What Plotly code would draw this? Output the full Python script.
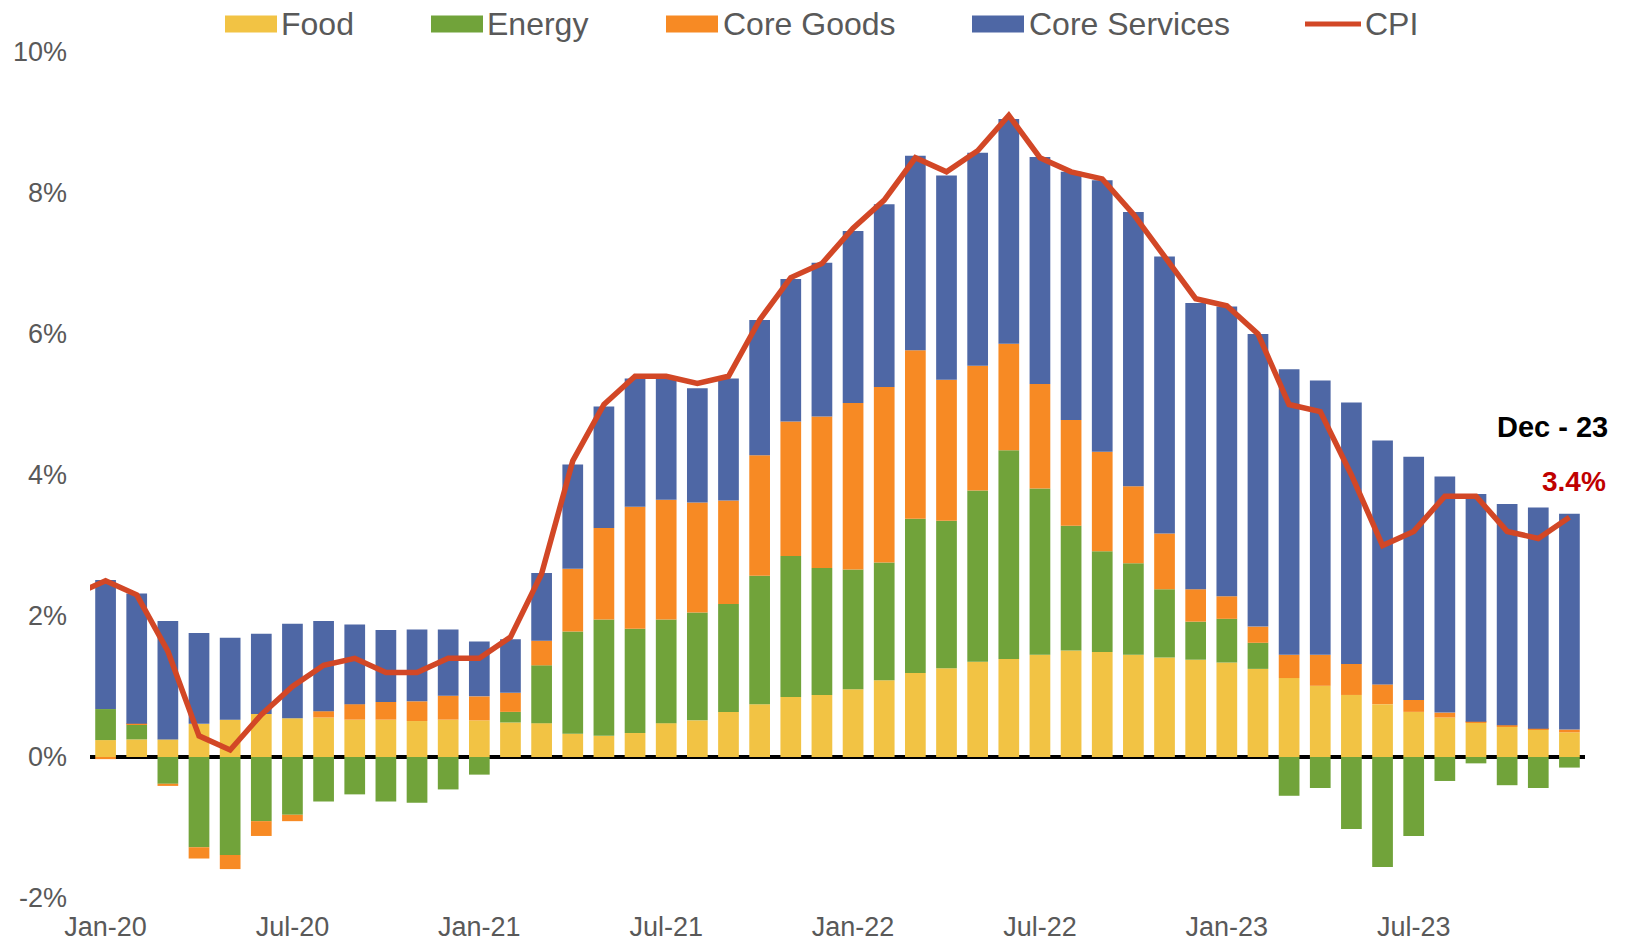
import pandas as pd
import plotly.graph_objects as go

# ---------------- data ----------------
months = list(pd.date_range("2020-01-01", periods=48, freq="MS").strftime("%b-%y"))
tick_labels = ["Jan-20", "Jul-20", "Jan-21", "Jul-21", "Jan-22", "Jul-22", "Jan-23", "Jul-23"]
y_tick_values = [-2, 0, 2, 4, 6, 8, 10]
y_tick_labels = ["-2%", "0%", "2%", "4%", "6%", "8%", "10%"]

food = [0.24, 0.25, 0.25, 0.47, 0.53, 0.61, 0.55, 0.56, 0.53, 0.53, 0.51, 0.53,
        0.52, 0.49, 0.48, 0.33, 0.30, 0.34, 0.48, 0.52, 0.64, 0.75, 0.85, 0.88,
        0.96, 1.09, 1.19, 1.26, 1.35, 1.39, 1.45, 1.51, 1.49, 1.45, 1.41, 1.38,
        1.34, 1.25, 1.12, 1.01, 0.88, 0.75, 0.64, 0.56, 0.49, 0.43, 0.39, 0.35]

energy = [0.44, 0.21, -0.38, -1.28, -1.39, -0.91, -0.82, -0.63, -0.53, -0.63, -0.65, -0.46,
          -0.25, 0.15, 0.82, 1.45, 1.65, 1.48, 1.47, 1.53, 1.53, 1.82, 2.00, 1.80,
          1.70, 1.67, 2.19, 2.09, 2.43, 2.96, 2.36, 1.77, 1.43, 1.30, 0.97, 0.54,
          0.62, 0.37, -0.55, -0.44, -1.02, -1.56, -1.12, -0.34, -0.09, -0.40, -0.44, -0.15]

core_goods = [-0.03, 0.01, -0.03, -0.16, -0.20, -0.21, -0.09, 0.09, 0.22, 0.25, 0.28, 0.34,
              0.34, 0.27, 0.35, 0.89, 1.30, 1.73, 1.70, 1.56, 1.47, 1.71, 1.91, 2.15,
              2.36, 2.49, 2.39, 2.00, 1.77, 1.51, 1.48, 1.50, 1.41, 1.09, 0.79, 0.46,
              0.32, 0.23, 0.33, 0.44, 0.44, 0.28, 0.17, 0.07, 0.01, 0.02, 0.01, 0.04]

core_services = [1.83, 1.85, 1.68, 1.29, 1.16, 1.14, 1.34, 1.28, 1.13, 1.02, 1.02, 0.94,
                 0.78, 0.76, 0.96, 1.48, 1.72, 1.82, 1.71, 1.62, 1.73, 1.92, 2.02, 2.18,
                 2.44, 2.59, 2.76, 2.90, 3.02, 3.19, 3.22, 3.52, 3.85, 3.89, 3.93, 4.06,
                 4.11, 4.15, 4.05, 3.89, 3.71, 3.46, 3.45, 3.35, 3.23, 3.14, 3.14, 3.06]

cpi = [2.5, 2.3, 1.5, 0.3, 0.1, 0.6, 1.0, 1.3, 1.4, 1.2, 1.2, 1.4,
       1.4, 1.7, 2.6, 4.2, 5.0, 5.4, 5.4, 5.3, 5.4, 6.2, 6.8, 7.0,
       7.5, 7.9, 8.5, 8.3, 8.6, 9.1, 8.5, 8.3, 8.2, 7.7, 7.1, 6.5,
       6.4, 6.0, 5.0, 4.9, 4.0, 3.0, 3.2, 3.7, 3.7, 3.2, 3.1, 3.4]
cpi_dec19 = 2.3  # previous month, line enters from the left edge

series_names = ["Food", "Energy", "Core Goods", "Core Services"]
series_colors = ["#F2C344", "#71A33A", "#F78A24", "#4E67A5"]
cpi_color = "#D24726"

# ---------------- layout constants ----------------
W, H = 1633, 944
# plot area in page pixels
P_LEFT, P_RIGHT, P_TOP, P_BOTTOM = 90, 1585, 52, 898
ML, MR, MT, MB = P_LEFT, W - P_RIGHT, P_TOP, H - P_BOTTOM
PW, PH = P_RIGHT - P_LEFT, P_BOTTOM - P_TOP
FONT = "Arial, Liberation Sans, sans-serif"
GREY = "#595959"


def pxx(px):
    return (px - P_LEFT) / PW


def pxy(py):
    return (P_BOTTOM - py) / PH


x_idx = list(range(len(months)))

fig = go.Figure()
for name, vals, col in zip(series_names, [food, energy, core_goods, core_services], series_colors):
    fig.add_trace(go.Bar(x=x_idx, y=vals, name=name, marker=dict(color=col, line=dict(width=0)),
                         showlegend=False))

fig.add_trace(go.Scatter(x=[-1] + x_idx, y=[cpi_dec19] + cpi, mode="lines", name="CPI",
                         line=dict(color=cpi_color, width=5.5), showlegend=False))

tickvals = [months.index(t) for t in tick_labels]

fig.update_layout(
    width=W, height=H,
    margin=dict(l=ML, r=MR, t=MT, b=MB, pad=0),
    barmode="relative", bargap=0.335,
    plot_bgcolor="white", paper_bgcolor="white",
    font=dict(family=FONT, color=GREY, size=27),
    xaxis=dict(range=[-0.5, len(months) - 0.5], tickvals=tickvals, ticktext=tick_labels,
               showgrid=False, zeroline=False, showline=False, ticks="", automargin=False,
               tickfont=dict(size=27, color=GREY), ticklabelstandoff=10),
    yaxis=dict(range=[-2, 10], tickvals=y_tick_values, ticktext=y_tick_labels, showgrid=False,
               zeroline=True, zerolinecolor="black", zerolinewidth=3.5, showline=False, ticks="",
               automargin=False, tickfont=dict(size=27, color=GREY), ticklabelstandoff=22),
)

# ---------------- custom legend ----------------
legend_pos = [(225, 281), (431, 487), (666, 723), (972, 1029), (1305, 1365)]
legend_names = series_names + ["CPI"]
legend_colors = series_colors + [cpi_color]
for i, (name, col, (x0, xt)) in enumerate(zip(legend_names, legend_colors, legend_pos)):
    if i < 4:
        fig.add_shape(type="rect", xref="paper", yref="paper",
                      x0=pxx(x0), x1=pxx(x0 + 52), y0=pxy(32.5), y1=pxy(15.5),
                      fillcolor=col, line=dict(width=0))
    else:
        fig.add_shape(type="line", xref="paper", yref="paper",
                      x0=pxx(x0), x1=pxx(x0 + 56), y0=pxy(24), y1=pxy(24),
                      line=dict(color=col, width=5))
    fig.add_annotation(xref="paper", yref="paper", x=pxx(xt - 2), y=pxy(24),
                       xanchor="left", yanchor="middle", text=name, showarrow=False,
                       font=dict(size=32, color=GREY, family=FONT))

# ---------------- end labels ----------------
last = len(months) - 1
fig.add_annotation(x=last, y=cpi[-1], xref="x", yref="y", text="<b>Dec - 23</b>",
                   showarrow=False, xshift=-17, yshift=90,
                   font=dict(size=29, color="black", family=FONT))
fig.add_annotation(x=last, y=cpi[-1], xref="x", yref="y", text="<b>%.1f%%</b>" % cpi[-1],
                   showarrow=False, xshift=5, yshift=36,
                   font=dict(size=28, color="#C00000", family=FONT))

fig.write_html("out.html", config={"displayModeBar": False},
               post_script="document.body.style.margin='0px';")
